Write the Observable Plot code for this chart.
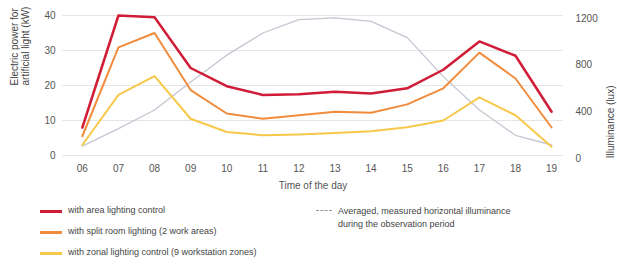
<!DOCTYPE html>
<html>
<head>
<meta charset="utf-8">
<script src="https://cdn.jsdelivr.net/npm/d3@7"></script>
<script src="https://cdn.jsdelivr.net/npm/@observablehq/plot@0.6"></script>
<style>
  body { margin: 0; background: #fff; font-family: "Liberation Sans", Arial, sans-serif; }
  #wrap { position: relative; width: 617px; height: 266px; }
  .leg { position: absolute; font-size: 9px; color: #444; white-space: nowrap; line-height: 11px; }
  .sw { position: absolute; height: 3px; width: 22px; }
</style>
</head>
<body>
<div id="wrap"></div>
<script>
const hours = [6, 7, 8, 9, 10, 11, 12, 13, 14, 15, 16, 17, 18, 19];
const hourLabels = ["06","07","08","09","10","11","12","13","14","15","16","17","18","19"];
const areaControl  = [8, 40, 39.5, 25, 19.8, 17.3, 17.5, 18.2, 17.7, 19.2, 24.5, 32.6, 28.5, 12.5];
const splitRoom    = [5.5, 30.9, 35, 18.7, 12, 10.5, 11.5, 12.5, 12.2, 14.6, 19.2, 29.4, 22, 8];
const zonalControl = [3, 17.3, 22.7, 10.5, 6.7, 5.8, 6, 6.4, 6.9, 8.1, 10, 16.6, 11.5, 2.5];
const illuminance  = [80, 230, 390, 630, 860, 1050, 1165, 1180, 1150, 1010, 676, 390, 173, 90];
const leftTicks = [0, 10, 20, 30, 40];
const rightTicks = [0, 400, 800, 1200];
const seriesNames = [
  "with area lighting control",
  "with split room lighting (2 work areas)",
  "with zonal lighting control (9 workstation zones)"
];
const illumName = ["Averaged, measured horizontal illuminance", "during the observation period"];
const colors = ["#d01c36", "#f08c3c", "#f8c84a"];
const grayColor = "#c4c6d0";
const luxFactor = 30; // 1200 lux on right axis aligns with 40 kW on left axis

const mk = (vals) => hours.map((h, i) => ({h, v: vals[i]}));
const series = [areaControl, splitRoom, zonalControl].map(mk);
const illum = hours.map((h, i) => ({h, v: illuminance[i] / luxFactor}));

const chart = Plot.plot({
  width: 617,
  height: 195,
  marginLeft: 62,
  marginRight: 54,
  marginTop: 15,
  marginBottom: 40,
  style: {fontFamily: "'Liberation Sans', Arial, sans-serif", fontSize: "10px", color: "#444", background: "white"},
  x: {domain: [5.45, 19.33]},
  y: {domain: [0, 40]},
  marks: [
    Plot.gridY(leftTicks, {stroke: "#e6e6e6", strokeOpacity: 1, strokeWidth: 1}),
    Plot.axisY(leftTicks, {anchor: "left", tickSize: 0, tickPadding: 7, label: null, fill: "#555"}),
    Plot.axisY(rightTicks.map(t => t / luxFactor), {anchor: "right", tickSize: 0, tickPadding: 12, dy: 3, label: null, tickFormat: d => String(Math.round(d * luxFactor)), fill: "#555"}),
    Plot.axisX(hours, {tickSize: 0, tickPadding: 9, tickFormat: (d) => hourLabels[hours.indexOf(d)], label: "Time of the day", labelAnchor: "center", labelArrow: "none", labelOffset: 33, fill: "#555"}),
    Plot.line(illum, {x: "h", y: "v", stroke: grayColor, strokeWidth: 1.3}),
    Plot.line(series[2], {x: "h", y: "v", stroke: colors[2], strokeWidth: 2}),
    Plot.line(series[1], {x: "h", y: "v", stroke: colors[1], strokeWidth: 2}),
    Plot.line(series[0], {x: "h", y: "v", stroke: colors[0], strokeWidth: 2.5}),
    Plot.text(["Electric power for\nartificial light (kW)"], {frameAnchor: "left", dx: -43, rotate: -90, fontSize: 10, fill: "#444", lineHeight: 1.1}),
    Plot.text(["Illuminance (lux)"], {frameAnchor: "right", dx: 47, rotate: -90, fontSize: 10, fill: "#444"})
  ]
});

const wrap = document.getElementById("wrap");
wrap.appendChild(chart);

const rowsY = [211, 232, 253];
seriesNames.forEach((name, i) => {
  const sw = document.createElement("div");
  sw.className = "sw";
  sw.style.left = "40px"; sw.style.top = (rowsY[i] - 1.5) + "px"; sw.style.background = colors[i];
  wrap.appendChild(sw);
  const t = document.createElement("div");
  t.className = "leg";
  t.style.left = "68px"; t.style.top = (rowsY[i] - 6) + "px";
  t.textContent = name;
  wrap.appendChild(t);
});
const gsw = document.createElement("div");
gsw.style.position = "absolute"; gsw.style.left = "316px"; gsw.style.top = "210px";
gsw.style.width = "16px"; gsw.style.borderTop = "1px dashed #999";
wrap.appendChild(gsw);
const gt = document.createElement("div");
gt.className = "leg";
gt.style.left = "338px"; gt.style.top = "205px"; gt.style.lineHeight = "13px";
gt.innerHTML = illumName[0] + "<br>" + illumName[1];
wrap.appendChild(gt);
</script>
</body>
</html>
